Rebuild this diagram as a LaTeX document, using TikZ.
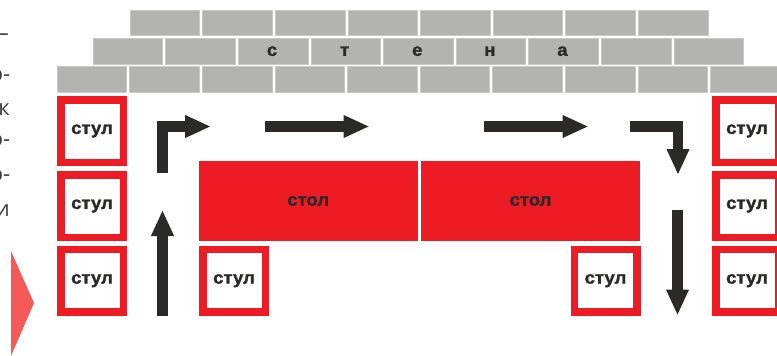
\documentclass[tikz,border=0pt]{standalone}
\usepackage{fontspec}
\setmainfont{Liberation Sans}
\newfontfamily\heavyfont{Liberation Sans Bold}[FakeBold=1.6,FakeStretch=1.06]
\newfontfamily\notefont{Open Sans}
\usetikzlibrary{arrows.meta}

\definecolor{tablered}{HTML}{ED1C24}
\definecolor{brickgray}{HTML}{B3B4B2}
\definecolor{brickedge}{HTML}{C9CAC8}
\definecolor{ink}{HTML}{2B2A29}
\definecolor{notegray}{HTML}{3C3C3C}
\definecolor{pointer}{HTML}{F45A58}

\tikzset{
  labelfont/.style={font=\heavyfont\fontsize{17.5}{20}\selectfont, text=ink},
  chair/.style={labelfont, draw=tablered, line width=7.5pt, fill=white,
    minimum size=62.5pt, inner sep=0pt},
  desk/.style={labelfont, fill=tablered, minimum width=219pt,
    minimum height=80pt, inner sep=0pt},
  brick/.style={fill=brickgray, draw=brickedge, line width=0.6pt},
  walltext/.style={labelfont, inner sep=0pt},
  route/.style={draw=ink, line width=10.5pt, line join=miter,
    -{Triangle[width=21pt,length=26pt]}},
  note/.style={font=\notefont\fontsize{22}{26}\selectfont, text=notegray,
    inner sep=0pt, anchor=base east},
}

\begin{document}
\begin{tikzpicture}[x=1pt,y=-1pt]
  \useasboundingbox (0,0) rectangle (777,356);
  \clip (0,0) rectangle (777,356);

  % brick wall, three staggered courses
  \foreach \i in {0,...,7}
    \draw[brick] ({130+72.6*\i},10) rectangle ++(69.6,25.7);
  \foreach \i in {0,...,8}
    \draw[brick] ({93+72.6*\i},38.3) rectangle ++(69.6,25.7);
  \foreach \i in {0,...,9}
    \draw[brick] ({57+72.6*\i},66.7) rectangle ++(69.6,25.7);

  % letters on the middle course
  \node[walltext] (w1) at (272.0,51.2) {с};
  \node[walltext] (w2) at (344.6,51.2) {т};
  \node[walltext] (w3) at (417.2,51.2) {е};
  \node[walltext] (w4) at (489.8,51.2) {н};
  \node[walltext] (w5) at (562.4,51.2) {а};

  % tables
  \node[desk] (deskL) at (308.2,201) {стол};
  \node[desk] (deskR) at (530.5,201) {стол};

  % chairs
  \node[chair] (chairL1) at (92,131) {стул};
  \node[chair] (chairL2) at (92,206) {стул};
  \node[chair] (chairL3) at (92,280.7) {стул};
  \node[chair] (chairR1) at (747,131) {стул};
  \node[chair] (chairR2) at (747,206) {стул};
  \node[chair] (chairR3) at (747,280.7) {стул};
  \node[chair] (chairB1) at (234,280.7) {стул};
  \node[chair] (chairB2) at (605.5,280.7) {стул};

  % walking route
  \coordinate (upStart) at (162.5,315.7);
  \coordinate (upEnd) at (162.5,210);
  \coordinate (turnStart) at (162.5,173);
  \coordinate (turnCorner) at (162.5,126.5);
  \coordinate (turnEnd) at (211,126.5);
  \coordinate (runAStart) at (265,126.5);
  \coordinate (runAEnd) at (369.5,126.5);
  \coordinate (runBStart) at (484,126.5);
  \coordinate (runBEnd) at (588.5,126.5);
  \coordinate (bendStart) at (630,126.5);
  \coordinate (bendCorner) at (678,126.5);
  \coordinate (bendEnd) at (678,175);
  \coordinate (downStart) at (677.5,210);
  \coordinate (downEnd) at (677.5,315.5);

  \draw[route] (upStart) -- (upEnd);
  \draw[route] (turnStart) -- (turnCorner) -- (turnEnd);
  \draw[route] (runAStart) -- (runAEnd);
  \draw[route] (runBStart) -- (runBEnd);
  \draw[route] (bendStart) -- (bendCorner) -- (bendEnd);
  \draw[route] (downStart) -- (downEnd);

  % text column ends and pointer at the left margin
  \node[note] (n1) at (9,40) {–};
  \node[note] (n2) at (10.5,81.5) {о-};
  \node[note] (n3) at (10,115) {к};
  \node[note] (n4) at (10.5,146.5) {о-};
  \node[note] (n5) at (10.5,181.5) {о-};
  \node[note] (n6) at (10,216.5) {и};
  \fill[pointer] (11,251) -- (34,303) -- (11,356) -- cycle;
\end{tikzpicture}
\end{document}
